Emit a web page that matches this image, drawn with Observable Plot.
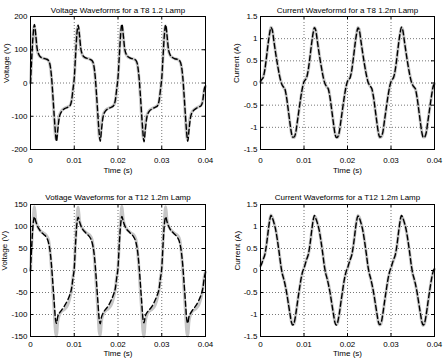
<!DOCTYPE html>
<html><head><meta charset="utf-8">
<script src="https://cdn.jsdelivr.net/npm/d3@7"></script>
<script src="https://cdn.jsdelivr.net/npm/@observablehq/plot@0.6"></script>
<style>
html,body{margin:0;padding:0;background:#fff;}
#wrap{position:relative;width:445px;height:360px;overflow:hidden;background:#fff;}
.panel{position:absolute;}
</style></head><body><div id="wrap"></div>
<script>
// time in ms
const tV = [0,0.3,0.6,0.9,1.2,1.5,1.9,2.4,3,3.6,4.1,4.5,4.8,5.1,5.4,5.7,5.95,6.2,6.6,7.1,7.8,8.5,9,9.4,9.7,
10,10.3,10.6,10.9,11.2,11.5,11.9,12.4,13,13.6,14.1,14.5,14.8,15.1,15.4,15.7,15.95,16.2,16.6,17.1,17.8,18.5,19,19.4,19.7,
20,20.3,20.6,20.9,21.2,21.5,21.9,22.4,23,23.6,24.1,24.5,24.8,25.1,25.4,25.7,25.95,26.2,26.6,27.1,27.8,28.5,29,29.4,29.7,
30,30.3,30.6,30.9,31.2,31.5,31.9,32.4,33,33.6,34.1,34.5,34.8,35.1,35.4,35.7,35.95,36.2,36.6,37.1,37.8,38.5,39,39.4,39.7,
40];
const tI = [0,0.3,0.6,1,1.4,1.8,2.1,2.4,2.7,3.1,3.5,3.9,4.3,4.7,5,5.3,5.6,6,6.4,6.8,7.1,7.4,7.7,8.1,8.5,8.9,9.3,9.7,
10,10.3,10.6,11,11.4,11.8,12.1,12.4,12.7,13.1,13.5,13.9,14.3,14.7,15,15.3,15.6,16,16.4,16.8,17.1,17.4,17.7,18.1,18.5,18.9,19.3,19.7,
20,20.3,20.6,21,21.4,21.8,22.1,22.4,22.7,23.1,23.5,23.9,24.3,24.7,25,25.3,25.6,26,26.4,26.8,27.1,27.4,27.7,28.1,28.5,28.9,29.3,29.7,
30,30.3,30.6,31,31.4,31.8,32.1,32.4,32.7,33.1,33.5,33.9,34.3,34.7,35,35.3,35.6,36,36.4,36.8,37.1,37.4,37.7,38.1,38.5,38.9,39.3,39.7,
40];

// T8 voltage
const v8model = [0,80,145,176,145,105,86,77,74,72,68,52,20,-35,-95,-150,-176,-145,-102,-86,-77,-73,-69,-52,-20,
15,82,147,174,143,104,85,77,74,71,67,51,18,-36,-96,-151,-175,-144,-101,-85,-77,-73,-68,-51,-19,
16,81,146,177,146,106,86,78,74,72,68,52,19,-34,-94,-149,-177,-146,-103,-86,-78,-73,-69,-52,-21,
14,80,145,175,144,105,85,77,73,71,67,51,19,-35,-95,-150,-175,-145,-102,-86,-77,-72,-68,-51,-20,
-8];
const v8meas = [0,86,155,172,140,100,84,77,74,72,67,50,15,-42,-105,-160,-170,-128,-97,-84,-76,-72,-68,-54,-22,
13,87,156,171,139,100,84,76,74,71,66,49,14,-43,-106,-161,-169,-127,-96,-83,-76,-72,-67,-53,-21,
14,86,154,173,141,101,85,77,74,72,67,50,15,-41,-104,-159,-171,-129,-98,-84,-77,-72,-68,-54,-23,
12,85,155,172,140,100,84,77,73,71,66,49,14,-42,-105,-160,-170,-128,-97,-84,-76,-71,-67,-53,-22,
-10];

// T12 voltage
const v12model = [0,60,105,122,112,103,95,88,82,76,64,42,12,-28,-70,-110,-120,-106,-97,-90,-80,-67,-55,-40,-18,
5,62,106,121,111,102,94,88,82,75,63,41,11,-29,-71,-111,-121,-107,-97,-89,-80,-66,-54,-40,-17,
6,61,104,123,112,103,95,89,83,76,64,42,12,-28,-70,-109,-119,-105,-96,-90,-81,-67,-55,-41,-18,
5,60,105,122,111,102,94,88,82,75,63,41,12,-28,-70,-110,-120,-106,-97,-89,-80,-67,-55,-40,-18,
-4];
const v12meas = [0,65,115,145,115,104,95,89,85,80,70,40,2,-45,-90,-138,-149,-118,-101,-93,-88,-78,-62,-42,-15,
6,67,117,144,114,103,95,89,84,80,69,39,1,-46,-91,-139,-148,-117,-100,-92,-87,-77,-61,-41,-14,
7,66,116,146,116,104,96,90,85,81,70,40,3,-44,-89,-137,-150,-119,-101,-93,-88,-78,-62,-43,-16,
5,65,115,145,115,103,95,89,84,80,70,39,2,-45,-90,-138,-149,-118,-100,-92,-87,-77,-61,-42,-15,
-3];

// T8 current
const i8model = [0.03,0.08,0.12,0.3,0.6,0.92,1.12,1.25,1.2,0.93,0.66,0.42,0.2,0.03,-0.05,-0.09,-0.13,-0.33,-0.62,-0.92,-1.12,-1.22,-1.22,-1.12,-0.85,-0.57,-0.3,-0.08,
0.03,0.07,0.12,0.31,0.61,0.93,1.13,1.25,1.19,0.92,0.65,0.41,0.19,0.02,-0.05,-0.09,-0.14,-0.34,-0.63,-0.93,-1.13,-1.23,-1.22,-1.11,-0.84,-0.56,-0.29,-0.07,
0.04,0.08,0.12,0.3,0.6,0.92,1.12,1.24,1.2,0.94,0.67,0.42,0.2,0.03,-0.04,-0.08,-0.13,-0.33,-0.62,-0.92,-1.12,-1.22,-1.21,-1.12,-0.85,-0.57,-0.3,-0.08,
0.03,0.08,0.13,0.31,0.61,0.93,1.13,1.26,1.2,0.93,0.66,0.41,0.19,0.02,-0.05,-0.09,-0.13,-0.33,-0.62,-0.92,-1.12,-1.22,-1.22,-1.12,-0.85,-0.57,-0.3,-0.08,
-0.02];
const i8meas = [0.02,0.09,0.13,0.31,0.61,0.93,1.13,1.26,1.21,0.94,0.67,0.43,0.21,0.04,-0.04,-0.1,-0.14,-0.34,-0.63,-0.93,-1.13,-1.23,-1.23,-1.13,-0.86,-0.58,-0.31,-0.09,
0.04,0.08,0.13,0.3,0.6,0.92,1.12,1.25,1.2,0.93,0.66,0.42,0.2,0.03,-0.05,-0.1,-0.13,-0.33,-0.62,-0.92,-1.12,-1.22,-1.23,-1.12,-0.85,-0.57,-0.3,-0.07,
0.03,0.09,0.13,0.31,0.61,0.93,1.13,1.25,1.21,0.94,0.67,0.43,0.21,0.04,-0.04,-0.09,-0.14,-0.34,-0.63,-0.93,-1.13,-1.23,-1.22,-1.13,-0.86,-0.58,-0.31,-0.09,
0.04,0.08,0.12,0.3,0.6,0.92,1.12,1.25,1.2,0.93,0.66,0.42,0.2,0.03,-0.05,-0.1,-0.13,-0.33,-0.62,-0.92,-1.12,-1.22,-1.22,-1.12,-0.85,-0.57,-0.3,-0.08,
-0.01];

// T12 current
const i12model = [0.1,0.16,0.25,0.36,0.6,0.92,1.13,1.25,1.2,1.08,0.92,0.68,0.4,0.1,-0.07,-0.18,-0.3,-0.5,-0.75,-1,-1.17,-1.24,-1.2,-1,-0.72,-0.45,-0.2,-0.02,
0.05,0.15,0.25,0.37,0.61,0.93,1.14,1.25,1.19,1.07,0.91,0.67,0.39,0.09,-0.07,-0.18,-0.31,-0.51,-0.76,-1.01,-1.18,-1.24,-1.19,-0.99,-0.71,-0.44,-0.19,-0.02,
0.05,0.15,0.24,0.36,0.6,0.92,1.13,1.24,1.2,1.08,0.92,0.68,0.4,0.1,-0.06,-0.17,-0.3,-0.5,-0.75,-1,-1.17,-1.23,-1.2,-1,-0.72,-0.45,-0.2,-0.02,
0.06,0.16,0.25,0.36,0.6,0.92,1.13,1.25,1.2,1.08,0.92,0.68,0.4,0.1,-0.07,-0.18,-0.3,-0.5,-0.75,-1,-1.17,-1.24,-1.2,-1,-0.72,-0.45,-0.2,-0.02,
0.04];
const i12meas = [0.11,0.17,0.26,0.37,0.61,0.93,1.14,1.26,1.21,1.09,0.93,0.69,0.41,0.11,-0.06,-0.17,-0.29,-0.49,-0.74,-0.99,-1.16,-1.23,-1.21,-1.01,-0.73,-0.46,-0.21,-0.03,
0.06,0.16,0.26,0.36,0.6,0.92,1.13,1.24,1.2,1.08,0.92,0.68,0.4,0.1,-0.06,-0.17,-0.29,-0.5,-0.75,-1,-1.17,-1.23,-1.2,-1,-0.72,-0.45,-0.2,-0.03,
0.04,0.14,0.25,0.37,0.61,0.93,1.14,1.25,1.21,1.09,0.93,0.69,0.41,0.11,-0.07,-0.18,-0.31,-0.51,-0.76,-1.01,-1.18,-1.24,-1.21,-1.01,-0.73,-0.46,-0.21,-0.03,
0.05,0.15,0.24,0.35,0.59,0.91,1.12,1.24,1.19,1.07,0.91,0.67,0.39,0.09,-0.08,-0.19,-0.31,-0.51,-0.76,-1.01,-1.18,-1.25,-1.21,-1.01,-0.73,-0.46,-0.21,-0.03,
0.03];

const xTicks = [0,10,20,30,40];
const xTickLabels = ["0","0.01","0.02","0.03","0.04"];
const yTicksV8 = [-200,-100,0,100,200];
const yTicksV12 = [-150,-100,-50,0,50,100,150];
const yTicksI = [-1.5,-1,-0.5,0,0.5,1,1.5];
const titles = ["Voltage Waveforms for a T8 1.2 Lamp","Current Waveformd for a T8 1.2m Lamp","Votlage Waveforms for a T12 1.2m Lamp","Current Waveforms for a T12 1.2m Lamp"];
const xLabel = "Time (s)";
const yLabels = ["Voltage (V)","Current (A)"];

const FONT = '"Liberation Sans", Arial, Helvetica, sans-serif';

const panels = [
  {t:tV, meas:v8meas, model:v8model, title:titles[0], ylabel:yLabels[0], yTicks:yTicksV8,
   left:0, top:0, width:220, height:180, mt:16, mb:31, ml:30, mr:15, tickPad:7.5, labelDy:23.5, titleDy:-9, ylDx:-24.5},
  {t:tI, meas:i8meas, model:i8model, title:titles[1], ylabel:yLabels[1], yTicks:yTicksI,
   left:220, top:0, width:225, height:180, mt:16, mb:31, ml:40, mr:11, tickPad:7.5, labelDy:23.5, titleDy:-9, ylDx:-24.5},
  {t:tV, meas:v12meas, model:v12model, title:titles[2], ylabel:yLabels[0], yTicks:yTicksV12,
   left:0, top:180, width:220, height:180, mt:24, mb:24, ml:30, mr:15, tickPad:4.5, labelDy:19.5, titleDy:-10, ylDx:-26.5},
  {t:tI, meas:i12meas, model:i12model, title:titles[3], ylabel:yLabels[1], yTicks:yTicksI,
   left:220, top:180, width:225, height:180, mt:24, mb:24, ml:40, mr:11, tickPad:4.5, labelDy:19.5, titleDy:-10, ylDx:-23}
];

const wrap = document.getElementById("wrap");
for (const p of panels) {
  const data = p.t.map((d, i) => ({t: d, meas: p.meas[i], model: p.model[i]}));
  const fh = p.height - p.mt - p.mb;
  const fw = p.width - p.ml - p.mr;
  const yd = [p.yTicks[0], p.yTicks[p.yTicks.length - 1]];
  const chart = Plot.plot({
    width: p.width, height: p.height,
    marginTop: p.mt, marginBottom: p.mb, marginLeft: p.ml, marginRight: p.mr,
    x: {domain: [0, 40], axis: null},
    y: {domain: yd, axis: null},
    style: {fontFamily: FONT, fontSize: "8px", color: "#000", background: "#fff", overflow: "visible"},
    marks: [
      Plot.gridX(xTicks, {stroke: "#777", strokeOpacity: 1, strokeDasharray: "1,2"}),
      Plot.gridY(p.yTicks, {stroke: "#777", strokeOpacity: 1, strokeDasharray: "1,2"}),
      Plot.line(data, {x: "t", y: "meas", stroke: "#c6c6c6", strokeWidth: 3, curve: "monotone-x"}),
      Plot.line(data, {x: "t", y: "model", stroke: "#000", strokeWidth: 1.4, strokeDasharray: "5,3", curve: "monotone-x"}),
      Plot.ruleX(xTicks, {stroke: "#000", insetTop: fh - 3}),
      Plot.ruleX(xTicks, {stroke: "#000", insetBottom: fh - 3}),
      Plot.ruleY(p.yTicks, {stroke: "#000", insetRight: fw - 3}),
      Plot.ruleY(p.yTicks, {stroke: "#000", insetLeft: fw - 3}),
      Plot.frame({stroke: "#000"}),
      Plot.axisX(xTicks, {tickSize: 0, tickPadding: p.tickPad, label: null, fill: "#000",
        tickFormat: d => xTickLabels[xTicks.indexOf(d)]}),
      Plot.axisY(p.yTicks, {tickSize: 0, tickPadding: 3, label: null, fill: "#000",
        tickFormat: d => String(d)}),
      Plot.text([p.title], {text: d => d, frameAnchor: "top", dy: p.titleDy, fill: "#000"}),
      Plot.text([xLabel], {text: d => d, frameAnchor: "bottom", dy: p.labelDy, fill: "#000"}),
      Plot.text([p.ylabel], {text: d => d, frameAnchor: "left", dx: p.ylDx, rotate: -90, fill: "#000"})
    ]
  });
  const div = document.createElement("div");
  div.className = "panel";
  div.style.left = p.left + "px";
  div.style.top = p.top + "px";
  div.appendChild(chart);
  wrap.appendChild(div);
}
</script>
</body></html>
